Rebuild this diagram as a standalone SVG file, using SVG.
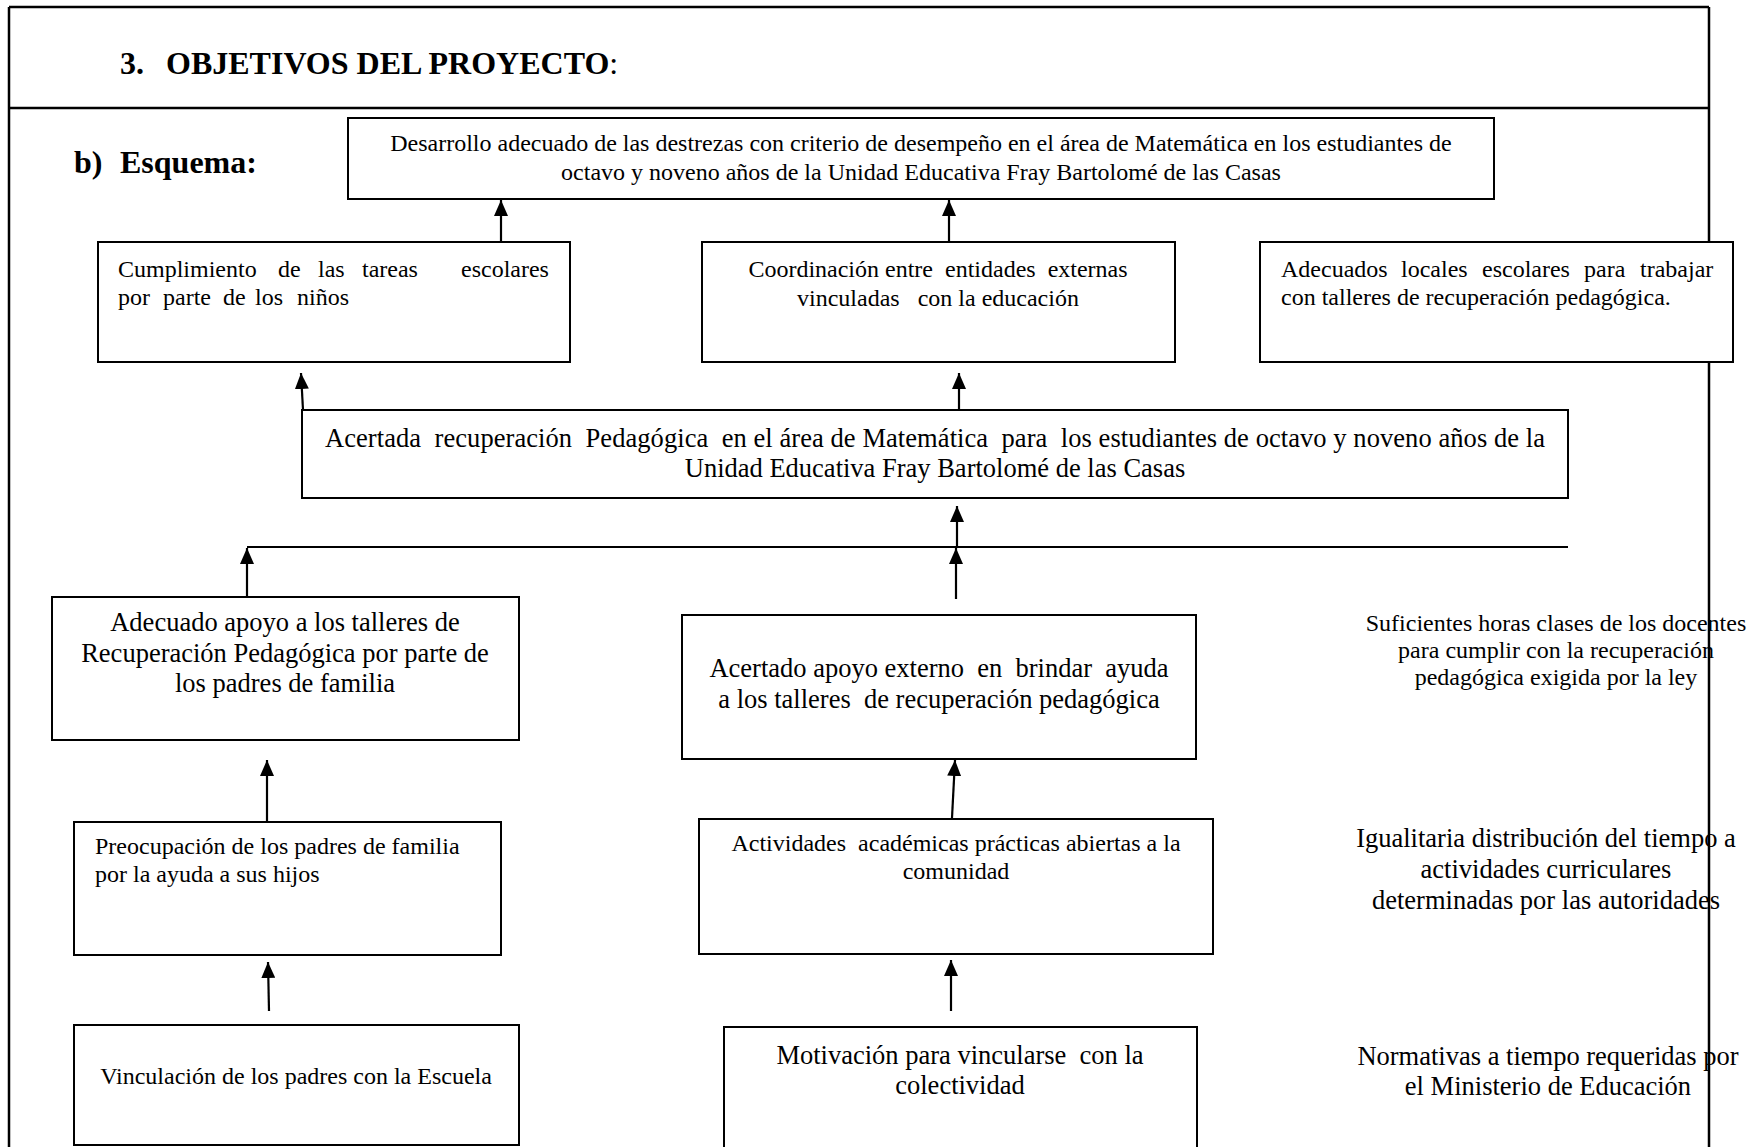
<svg xmlns="http://www.w3.org/2000/svg" width="1764" height="1147" viewBox="0 0 1764 1147">
<style>
text { font-family: "Liberation Serif", "Times New Roman", serif; fill: #000; }
.s24 { font-size: 24px; }
.s26 { font-size: 26.5px; }
.b32 { font-size: 32px; font-weight: bold; }
.mid { text-anchor: middle; }
.box { fill: #fff; stroke: #000; stroke-width: 2; }
.frame { stroke: #000; stroke-width: 2.5; fill: none; }
.conn line { stroke: #000; stroke-width: 2.2; marker-end: url(#ah); }
.conn .plain { marker-end: none; }
</style>
<defs>
<marker id="ah" viewBox="0 0 16 14" markerWidth="16" markerHeight="14" refX="16" refY="7" orient="auto" markerUnits="userSpaceOnUse">
<path d="M0,0 L16,7 L0,14 z" fill="#000"/>
</marker>
</defs>
<rect width="1764" height="1147" fill="#fff"/>
<g id="frame">
<line class="frame" x1="9" y1="7" x2="1709" y2="7"/>
<line class="frame" x1="9" y1="7" x2="9" y2="1147"/>
<line class="frame" x1="1709" y1="7" x2="1709" y2="1147"/>
<line class="frame" x1="9" y1="108" x2="1709" y2="108"/>
</g>
<g id="title">
<text class="b32" x="120" y="74">3.<tspan x="166">OBJETIVOS DEL PROYECTO</tspan><tspan font-weight="normal">:</tspan></text>
<text class="b32" x="74" y="173">b)<tspan x="120">Esquema:</tspan></text>
</g>
<g id="n-desarrollo">
<rect class="box" x="348" y="118" width="1146" height="81"/>
<text class="s24 mid" x="921" y="151">Desarrollo adecuado de las destrezas con criterio de desempeño en el área de Matemática en los estudiantes de</text>
<text class="s24 mid" x="921" y="180">octavo y noveno años de la Unidad Educativa Fray Bartolomé de las Casas</text>
</g>
<g id="n-cumplimiento">
<rect class="box" x="98" y="242" width="472" height="120"/>
<text class="s24" y="277"><tspan x="118">Cumplimiento</tspan><tspan x="278">de</tspan><tspan x="318">las</tspan><tspan x="362">tareas</tspan><tspan x="461">escolares</tspan></text>
<text class="s24" y="305"><tspan x="118">por</tspan><tspan x="163">parte</tspan><tspan x="223">de</tspan><tspan x="255">los</tspan><tspan x="297">niños</tspan></text>
</g>
<g id="n-coordinacion">
<rect class="box" x="702" y="242" width="473" height="120"/>
<text class="s24 mid" x="938" y="277">Coordinación entre &#160;entidades &#160;externas</text>
<text class="s24 mid" x="938" y="306">vinculadas &#160; con la educación</text>
</g>
<g id="n-locales">
<rect class="box" x="1260" y="242" width="473" height="120"/>
<text class="s24" y="277"><tspan x="1281">Adecuados</tspan><tspan x="1401">locales</tspan><tspan x="1482">escolares</tspan><tspan x="1584">para</tspan><tspan x="1640">trabajar</tspan></text>
<text class="s24" x="1281" y="305">con talleres de recuperación pedagógica.</text>
</g>
<g id="n-acertada">
<rect class="box" x="302" y="410" width="1266" height="88"/>
<text class="s26 mid" x="935" y="447" textLength="1220">Acertada &#160;recuperación &#160;Pedagógica &#160;en el área de Matemática &#160;para &#160;los estudiantes de octavo y noveno años de la</text>
<text class="s26 mid" x="935" y="477">Unidad Educativa Fray Bartolomé de las Casas</text>
</g>
<g id="n-adecuado-apoyo">
<rect class="box" x="52" y="597" width="467" height="143"/>
<text class="s26 mid" x="285" y="631">Adecuado apoyo a los talleres de</text>
<text class="s26 mid" x="285" y="662">Recuperación Pedagógica por parte de</text>
<text class="s26 mid" x="285" y="692">los padres de familia</text>
</g>
<g id="n-acertado-apoyo">
<rect class="box" x="682" y="615" width="514" height="144"/>
<text class="s26 mid" x="939" y="677">Acertado apoyo externo &#160;en &#160;brindar &#160;ayuda</text>
<text class="s26 mid" x="939" y="708">a los talleres &#160;de recuperación pedagógica</text>
</g>
<g id="n-suficientes">
<text class="s24 mid" x="1556" y="631">Suficientes horas clases de los docentes</text>
<text class="s24 mid" x="1556" y="658">para cumplir con la recuperación</text>
<text class="s24 mid" x="1556" y="685">pedagógica exigida por la ley</text>
</g>
<g id="n-preocupacion">
<rect class="box" x="74" y="822" width="427" height="133"/>
<text class="s24" x="95" y="854">Preocupación de los padres de familia</text>
<text class="s24" x="95" y="882">por la ayuda a sus hijos</text>
</g>
<g id="n-actividades">
<rect class="box" x="699" y="819" width="514" height="135"/>
<text class="s24 mid" x="956" y="851">Actividades &#160;académicas prácticas abiertas a la</text>
<text class="s24 mid" x="956" y="879">comunidad</text>
</g>
<g id="n-igualitaria">
<text class="s26 mid" x="1546" y="847">Igualitaria distribución del tiempo a</text>
<text class="s26 mid" x="1546" y="878">actividades curriculares</text>
<text class="s26 mid" x="1546" y="909">determinadas por las autoridades</text>
</g>
<g id="n-vinculacion">
<rect class="box" x="74" y="1025" width="445" height="120"/>
<text class="s24 mid" x="296" y="1084">Vinculación de los padres con la Escuela</text>
</g>
<g id="n-motivacion">
<rect class="box" x="724" y="1027" width="473" height="140"/>
<text class="s26 mid" x="960" y="1064">Motivación para vincularse &#160;con la</text>
<text class="s26 mid" x="960" y="1094">colectividad</text>
</g>
<g id="n-normativas">
<text class="s26 mid" x="1548" y="1065">Normativas a tiempo requeridas por</text>
<text class="s26 mid" x="1548" y="1095">el Ministerio de Educación</text>
</g>
<g id="connectors" class="conn">
<line x1="501" y1="242" x2="501" y2="200"/>
<line x1="949" y1="242" x2="949" y2="200"/>
<line x1="303" y1="410" x2="301" y2="373"/>
<line x1="959" y1="410" x2="959" y2="373"/>
<line class="plain" x1="247" y1="547" x2="1568" y2="547"/>
<line x1="957" y1="547" x2="957" y2="506"/>
<line x1="956" y1="599" x2="956" y2="548"/>
<line x1="247" y1="597" x2="247" y2="548"/>
<line x1="267" y1="822" x2="267" y2="760"/>
<line x1="269" y1="1011" x2="268" y2="962"/>
<line x1="952" y1="818" x2="955" y2="760"/>
<line x1="951" y1="1011" x2="951" y2="960"/>
</g>
</svg>
